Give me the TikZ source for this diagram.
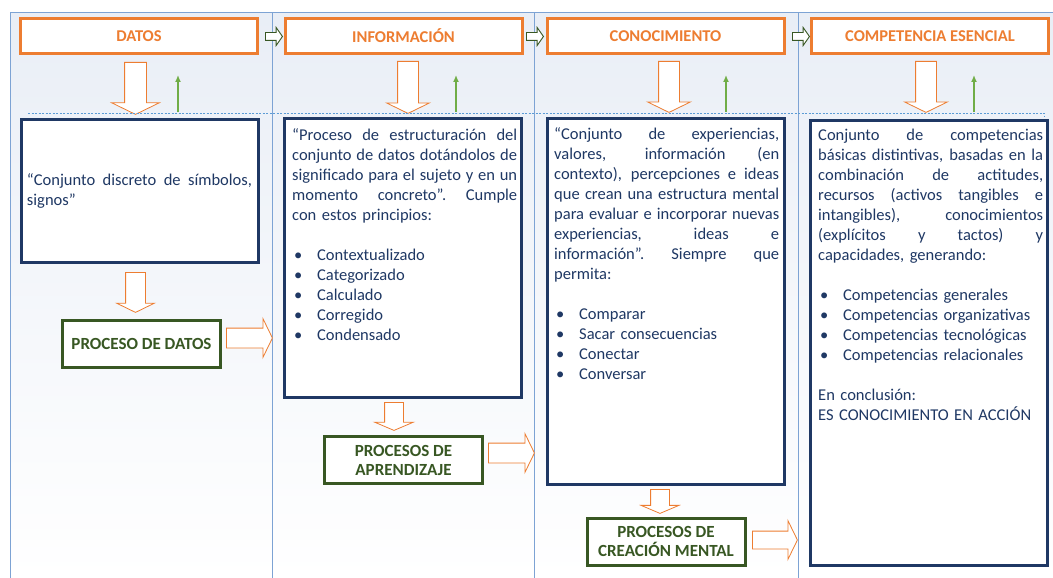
\documentclass[tikz,border=0pt]{standalone}
\usepackage{fontspec}
\setmainfont{Carlito}
\usetikzlibrary{shapes.arrows,arrows.meta}
\definecolor{naranja}{RGB}{237,125,49}
\definecolor{marino}{RGB}{31,56,100}
\definecolor{verde}{RGB}{56,87,35}
\definecolor{verdeclaro}{RGB}{112,173,71}
\definecolor{panelborde}{RGB}{125,163,212}
\definecolor{panelfondo}{RGB}{233,238,246}
\definecolor{punteado}{RGB}{91,155,213}
\newlength\tw
\setlength\tw{225pt}
\newcommand{\jl}[1]{\makebox[\tw][s]{\spaceskip=\fontdimen2\font plus 1fil\relax\xspaceskip=\spaceskip #1}}
\newcommand{\bul}[1]{\makebox[25pt][l]{\hspace{2pt}\textbullet}#1}
\setlength{\parindent}{0pt}

\begin{document}
\begin{tikzpicture}[x=1pt, y=-1pt,
header/.style = {rectangle, draw=naranja, line width=3pt, fill=white, minimum width=237pt, minimum height=35pt, text=naranja, font=\fontsize{16.5}{19}\selectfont\bfseries},
block/.style = {rectangle, draw=marino, line width=3pt, fill=white, minimum width=237pt},
body/.style = {text width=\tw, inner sep=0pt, text=marino, font=\fontsize{16.5}{20}\selectfont},
proc/.style = {rectangle, draw=verde, line width=3pt, fill=white, minimum width=158pt, minimum height=47pt, align=center, text=verde, font=\fontsize{17}{19}\selectfont\bfseries},
bigarrow/.style = {single arrow, draw=naranja, fill=white, line width=0.8pt, single arrow tip angle=128},
smallarrow/.style = {single arrow, draw=verde, fill=white, line width=0.9pt, minimum height=17pt, inner sep=3.5pt, single arrow head extend=5pt, single arrow tip angle=110},
up/.style = {draw=verdeclaro, line width=2pt, -{Latex[length=7pt,width=6pt]}}
]
\useasboundingbox (0,0) rectangle (1053,578);

% columns
\foreach \xa/\xb in {10/272, 272/534, 534/798, 798/1056} {
\shade[top color=panelfondo, bottom color=white] (\xa,13) rectangle (\xb,578);
\draw[panelborde, line width=1pt] (\xa,578) -- (\xa,13) -- (\xb,13) -- (\xb,578);
}

% headers
\node[header] at (139,36) (h1) {DATOS};
\node[header] at (403.5,36) (h2) {INFORMACIÓN};
\node[header] at (665.5,36) (h3) {CONOCIMIENTO};
\node[header] at (930,36) (h4) {COMPETENCIA ESENCIAL};

\node[smallarrow, anchor=tail] at (265,36.5) (s1) {};
\node[smallarrow, anchor=tail] at (526,36.5) (s2) {};
\node[smallarrow, anchor=tail] at (792,36.5) (s3) {};

% arrows below the headers
\node[bigarrow, rotate=-90, anchor=tail, minimum height=52pt, inner sep=10.5pt, single arrow head extend=13pt] at (135.5,62) (d1) {};
\node[bigarrow, rotate=-90, anchor=tail, minimum height=52pt, inner sep=10pt, single arrow head extend=11pt] at (408,61) (d2) {};
\node[bigarrow, rotate=-90, anchor=tail, minimum height=51pt, inner sep=10pt, single arrow head extend=11pt] at (669,61) (d3) {};
\node[bigarrow, rotate=-90, anchor=tail, minimum height=51pt, inner sep=10pt, single arrow head extend=11pt] at (926,61) (d4) {};

\draw[dash pattern=on 2pt off 1.5pt, punteado, line width=1pt] (28,113) -- (1044,113) -- (1044,117);

\coordinate (u1a) at (178,112); \coordinate (u1b) at (178,75);
\coordinate (u2a) at (456,112); \coordinate (u2b) at (456,75);
\coordinate (u3a) at (726,112); \coordinate (u3b) at (726,75);
\coordinate (u4a) at (974,112); \coordinate (u4b) at (974,75);
\draw[up] (u1a) -- (u1b);
\draw[up] (u2a) -- (u2b);
\draw[up] (u3a) -- (u3b);
\draw[up] (u4a) -- (u4b);

% description boxes
\node[block, minimum height=143pt] at (139.5,190.5) (b1) {};
\node[block, minimum height=279pt] at (403,257.5) (b2) {};
\node[block, minimum height=366pt] at (665.5,301) (b3) {};
\node[block, minimum height=445pt] at (929,342.5) (b4) {};

\node[body] at (139.5,191) (t1) {\jl{“Conjunto discreto de símbolos,}\\
signos”};

\node[body, anchor=north west] at (292,128) (t2) {\jl{“Proceso de estructuración del}\\
\jl{conjunto de datos dotándolos de}\\
\jl{significado para el sujeto y en un}\\
\jl{momento concreto”. Cumple}\\
con estos principios:\\[20pt]
\bul{Contextualizado}\\
\bul{Categorizado}\\
\bul{Calculado}\\
\bul{Corregido}\\
\bul{Condensado}};

\node[body, anchor=north west] at (554,127) (t3) {\jl{“Conjunto de experiencias,}\\
\jl{valores, información (en}\\
\jl{contexto), percepciones e ideas}\\
\jl{que crean una estructura mental}\\
\jl{para evaluar e incorporar nuevas}\\
\jl{experiencias, ideas e}\\
\jl{información”. Siempre que}\\
permita:\\[20pt]
\bul{Comparar}\\
\bul{Sacar consecuencias}\\
\bul{Conectar}\\
\bul{Conversar}};

\node[body, anchor=north west] at (818,129) (t4) {\jl{Conjunto de competencias}\\
\jl{básicas distintivas, basadas en la}\\
\jl{combinación de actitudes,}\\
\jl{recursos (activos tangibles e}\\
\jl{intangibles), conocimientos}\\
\jl{(explícitos y tactos) y}\\
capacidades, generando:\\[20pt]
\bul{Competencias generales}\\
\bul{Competencias organizativas}\\
\bul{Competencias tecnológicas}\\
\bul{Competencias relacionales}\\[20pt]
En conclusión:\\
ES CONOCIMIENTO EN ACCIÓN};

% processes
\node[bigarrow, rotate=-90, anchor=tail, minimum height=40pt, inner sep=9.5pt, single arrow head extend=9pt] at (135.5,272) (e1) {};
\node[bigarrow, rotate=-90, anchor=tail, minimum height=28pt, inner sep=9pt, single arrow head extend=10pt, single arrow tip angle=134] at (394,402) (e2) {};
\node[bigarrow, rotate=-90, anchor=tail, minimum height=24pt, inner sep=9pt, single arrow head extend=9.5pt, single arrow tip angle=134] at (660,489) (e3) {};

\node[proc] at (141.5,343.5) (p1) {PROCESO DE DATOS};
\node[proc] at (403.5,460) (p2) {PROCESOS DE\\APRENDIZAJE};
\node[proc] at (666,541.5) (p3) {PROCESOS DE\\CREACIÓN MENTAL};

\node[bigarrow, anchor=tail, minimum height=46pt, inner sep=9.5pt, single arrow head extend=9.5pt] at (226,338) (r1) {};
\node[bigarrow, anchor=tail, minimum height=46pt, inner sep=9.5pt, single arrow head extend=9.5pt] at (488,453) (r2) {};
\node[bigarrow, anchor=tail, minimum height=45pt, inner sep=8.5pt, single arrow head extend=10.5pt] at (752,540) (r3) {};

\end{tikzpicture}
\end{document}
